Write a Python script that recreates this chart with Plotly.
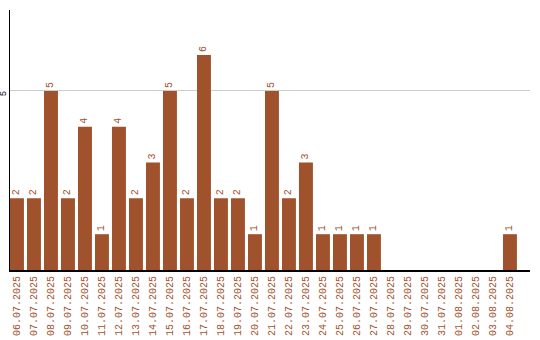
import plotly.graph_objects as go

dates = ["06.07.2025","07.07.2025","08.07.2025","09.07.2025","10.07.2025","11.07.2025",
         "12.07.2025","13.07.2025","14.07.2025","15.07.2025","16.07.2025","17.07.2025",
         "18.07.2025","19.07.2025","20.07.2025","21.07.2025","22.07.2025","23.07.2025",
         "24.07.2025","25.07.2025","26.07.2025","27.07.2025","28.07.2025","29.07.2025",
         "30.07.2025","31.07.2025","01.08.2025","02.08.2025","03.08.2025","04.08.2025"]
counts = [2,2,5,2,4,1,4,2,3,5,2,6,2,2,1,5,2,3,1,1,1,1,0,0,0,0,0,0,0,1]

color = "#A0522D"
xs = list(range(len(dates)))
labels = [str(v) if v else "" for v in counts]

fig = go.Figure(go.Bar(
    x=xs, y=counts, width=0.82, marker_color=color, marker_line_width=0,
    text=labels, textposition="outside", textangle=-90, cliponaxis=False,
    textfont=dict(family="Liberation Mono", size=10, color=color),
))
fig.update_layout(
    width=540, height=340, margin=dict(l=10, r=10, t=10, b=70),
    plot_bgcolor="white", paper_bgcolor="white", showlegend=False,
    font=dict(family="Liberation Mono", size=10),
)
fig.update_xaxes(range=[-0.41, 30.18], tickmode="array", tickvals=xs, ticktext=dates,
                 tickangle=-90, tickfont=dict(color=color, size=10, family="Liberation Mono"),
                 showline=True, linecolor="black", linewidth=2, showgrid=False, ticks="",
                 zeroline=False, automargin=False)
fig.update_yaxes(range=[0, 7.26], tickvals=[5], tickangle=-90,
                 tickfont=dict(color="black", size=9, family="Liberation Mono"),
                 ticklabelstandoff=-1, ticklabelshift=4,
                 showline=True, linecolor="black", linewidth=1, showgrid=True,
                 gridcolor="#cccccc", zeroline=False, ticks="", automargin=False)
fig.write_html("out.html")
